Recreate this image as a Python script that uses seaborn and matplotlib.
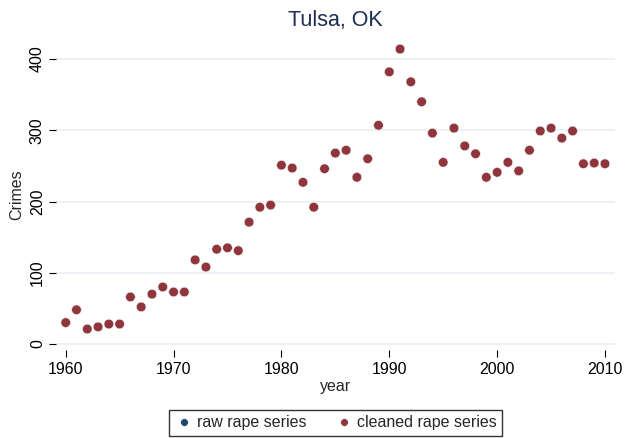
import numpy as np
import pandas as pd
import matplotlib
matplotlib.use("Agg")
import matplotlib.pyplot as plt
import seaborn as sns

years = list(range(1960, 2011))
cleaned = [30, 48, 21, 24, 28, 28, 66, 52, 70, 80,
           73, 73, 118, 108, 133, 135, 131, 171, 192, 195,
           251, 247, 227, 192, 246, 268, 272, 234, 260, 307,
           382, 414, 368, 340, 296, 255, 303, 278, 267, 234,
           241, 255, 243, 272, 299, 303, 289, 299, 253, 254,
           253]
raw = list(cleaned)  # raw series sits under the cleaned one

df = pd.concat([
    pd.DataFrame({"year": years, "Crimes": raw, "series": "raw rape series"}),
    pd.DataFrame({"year": years, "Crimes": cleaned, "series": "cleaned rape series"}),
])

sns.set_style("white")
plt.rcParams["font.family"] = ["Liberation Sans", "DejaVu Sans"]

fig = plt.figure(figsize=(6.36, 4.38), dpi=100)
ax = fig.add_axes([56 / 636, 1 - 350.4 / 438, (615 - 56) / 636, (350.4 - 39.8) / 438])

palette = {"raw rape series": "#1a476f", "cleaned rape series": "#90353b"}
sns.scatterplot(data=df, x="year", y="Crimes", hue="series", palette=palette,
                s=48, edgecolor="white", linewidth=0.4, ax=ax, zorder=3)

ax.set_xlim(1959.1, 2010.93)
ax.set_ylim(-9, 427)
ax.set_xticks(range(1960, 2011, 10))
ax.set_yticks(range(0, 401, 100))
ax.yaxis.grid(True, color="#e8eff2", linewidth=1.2)
ax.set_axisbelow(True)
for s in ax.spines.values():
    s.set_visible(False)

ax.tick_params(axis="both", labelsize=11.5, colors="black", length=5, width=0.8,
               direction="out", left=True, bottom=True, pad=3)
for lab in ax.get_yticklabels():
    lab.set_rotation(90)
    lab.set_va("center")
ax.set_xlabel("year", fontsize=11.5, labelpad=2)
ax.set_ylabel("Crimes", fontsize=11.5, labelpad=4)
ax.set_title("Tulsa, OK", fontsize=15.5, color="#1e2d53", pad=10)

ax.legend(loc="upper center", bbox_to_anchor=(0.5, -0.165), ncol=2, frameon=True,
          fancybox=False, edgecolor="black", fontsize=11.5, markerscale=0.8,
          handletextpad=0.2, columnspacing=1.8, borderpad=0.35, handlelength=1.2)
ax.get_legend().get_frame().set_linewidth(1.0)

fig.savefig("out.png", dpi=100)
